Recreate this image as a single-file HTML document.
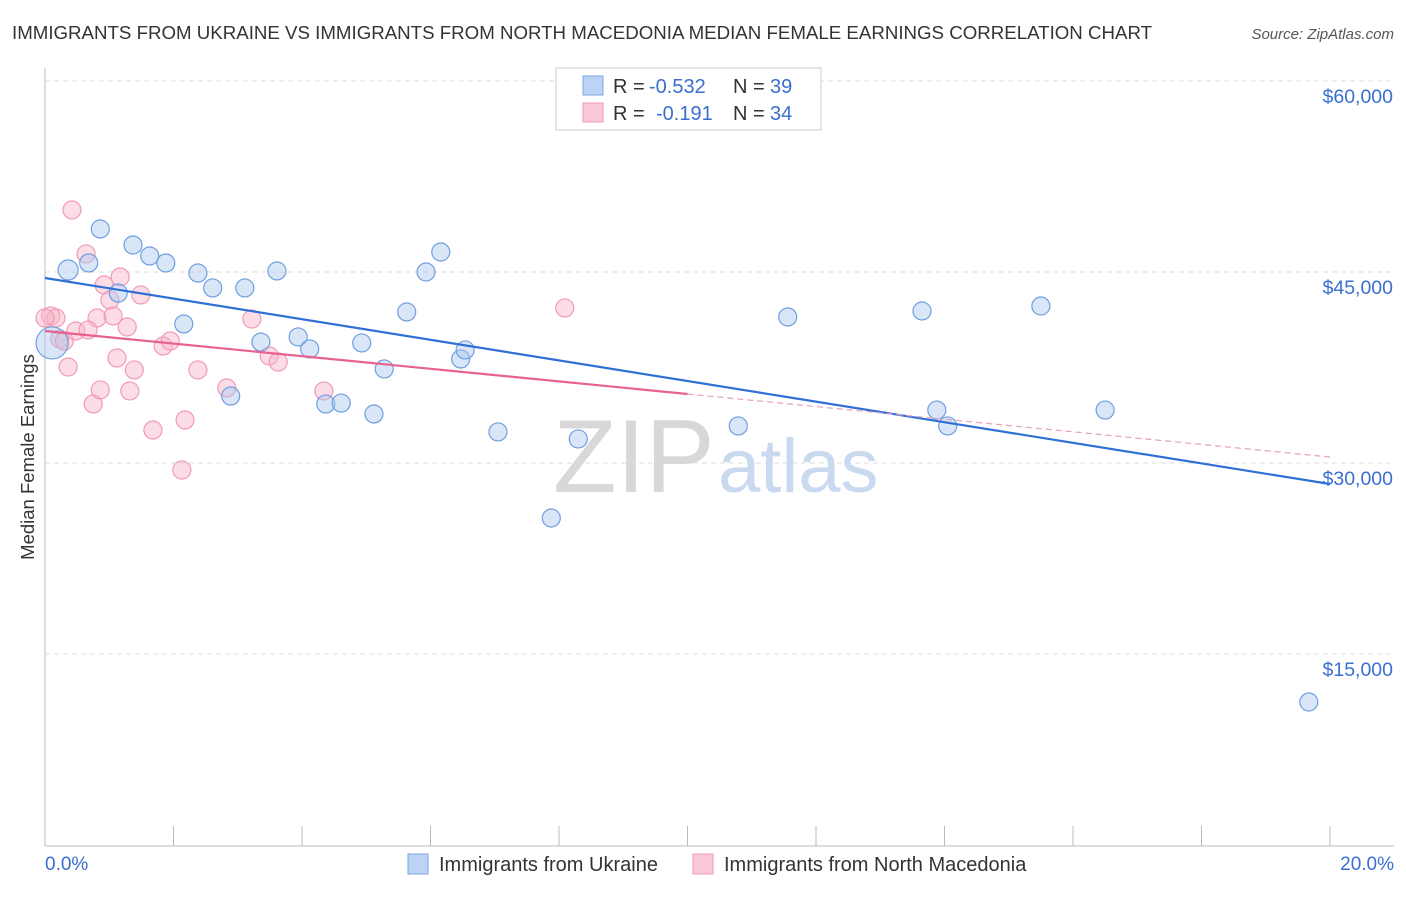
<!DOCTYPE html>
<html><head><meta charset="utf-8"><style>
body{margin:0;background:#fff;font-family:"Liberation Sans",sans-serif;}
svg text{font-family:"Liberation Sans",sans-serif;}
</style></head><body>
<svg id="c" width="1406" height="892" xmlns="http://www.w3.org/2000/svg">
<text x="12" y="39" font-size="18.7" fill="#333">IMMIGRANTS FROM UKRAINE VS IMMIGRANTS FROM NORTH MACEDONIA MEDIAN FEMALE EARNINGS CORRELATION CHART</text>
<text x="1394" y="39" font-size="15" fill="#555" font-style="italic" text-anchor="end">Source: ZipAtlas.com</text>
<g id="grid"></g>
<text x="553" y="492" font-size="104" fill="#d8d8d8" font-family="Liberation Serif">ZIP</text>
<text x="718" y="492" font-size="76" fill="#c9daf0">atlas</text>
<g id="marks"></g>
<text transform="translate(34,457) rotate(-90)" font-size="18.5" fill="#333" text-anchor="middle">Median Female Earnings</text>
<text x="45" y="870" font-size="19" fill="#3a6fd1">0.0%</text>
<text x="1394" y="870" font-size="19" fill="#3a6fd1" text-anchor="end">20.0%</text>
<g>
<rect x="556" y="68" width="265" height="62" fill="#fff" stroke="#ccc"/>
<rect x="583" y="76" width="20" height="19" fill="#bcd3f5" stroke="#7aa6e3"/>
<rect x="583" y="103" width="20" height="19" fill="#fac8d6" stroke="#f29ab5"/>
<text x="613" y="93" font-size="20" fill="#333">R =</text>
<text x="649" y="93" font-size="20" fill="#3a6fd1">-0.532</text>
<text x="733" y="93" font-size="20" fill="#333">N =</text>
<text x="770" y="93" font-size="20" fill="#3a6fd1">39</text>
<text x="613" y="120" font-size="20" fill="#333">R =</text>
<text x="656" y="120" font-size="20" fill="#3a6fd1">-0.191</text>
<text x="733" y="120" font-size="20" fill="#333">N =</text>
<text x="770" y="120" font-size="20" fill="#3a6fd1">34</text>
</g>
<g>
<rect x="408" y="854" width="20" height="20" fill="#bcd3f5" stroke="#7aa6e3"/>
<text x="439" y="871" font-size="20" fill="#333">Immigrants from Ukraine</text>
<rect x="693" y="854" width="20" height="20" fill="#fac8d6" stroke="#f29ab5"/>
<text x="724" y="871" font-size="20" fill="#333">Immigrants from North Macedonia</text>
</g>
</svg>
<script>
const yTicks=[15000,30000,45000,60000];
const yTickLabels=["$15,000","$30,000","$45,000","$60,000"];
const xTicks=[0,2,4,6,8,10,12,14,16,18,20];
const ukraineX=[0.36,0.86,1.37,1.63,1.88,0.68,1.14,2.38,2.61,3.11,3.61,2.16,3.36,3.94,4.12,2.89,4.37,4.61,4.93,5.12,5.28,5.63,5.93,6.16,6.47,6.54,7.05,7.88,8.30,10.79,11.56,13.65,13.88,14.05,15.50,16.50,19.67,0.11,8.95];
const ukraineY=[45160,48380,47120,46260,45710,45710,43350,44920,43750,43750,45080,40920,39500,39900,38960,35260,34640,34710,39430,33850,37390,41860,45000,46570,38170,38880,32440,25680,31890,32910,41470,41940,34160,32910,42330,34160,11230,39430,57730];
const ukraineSize=[10,9,9,9,9,9,9,9,9,9,9,9,9,9,9,9,9,9,9,9,9,9,9,9,9,9,9,9,9,9,9,9,9,9,9,9,9,16,6];
const macX=[0.42,0.64,0.09,0.17,0.23,0.30,0.36,0.48,0.75,0.81,0.86,0.92,1.01,1.06,1.12,1.17,1.28,1.32,1.39,1.49,1.68,1.84,1.95,2.18,2.13,2.38,2.83,3.22,3.49,3.63,4.34,8.09,0.67,0.0];
const macY=[49870,46420,41550,41390,39740,39580,37540,40370,34640,41390,35740,43980,42800,41550,38250,44610,40680,35660,37310,43200,32590,39190,39580,33380,29450,37310,35890,41310,38410,37930,35660,42180,40450,41390];
const ukraineTrend=[44530,28350];
const macTrend=[40370,30470];
const NS="http://www.w3.org/2000/svg";
const X=v=>45+v*64.25, Y=v=>845-v*0.012733;
function mk(t,a,p){const e=document.createElementNS(NS,t);for(const k in a)e.setAttribute(k,a[k]);p.appendChild(e);return e;}
const g=document.getElementById('grid'), m=document.getElementById('marks');
const ax=mk('line',{x1:45,y1:68,x2:45,y2:846,stroke:'#bbb'},g);


const bx=mk('line',{x1:45,y1:846,x2:1394,y2:846,stroke:'#bbb'},g);


yTicks.forEach((t,i)=>{
 const l=mk('line',{x1:45,y1:Y(t),x2:1394,y2:Y(t),stroke:'#ddd','stroke-dasharray':'5,4'},g);
 
 
 const tx=mk('text',{x:1393,y:Y(t)+22,'font-size':19.5,fill:'#3a6fd1','text-anchor':'end'},g);
 tx.textContent=yTickLabels[i];
 
 
});
xTicks.forEach(t=>{
 const l=mk('line',{x1:X(t),y1:826,x2:X(t),y2:846,stroke:'#bbb'},g);
 
 
});
macX.forEach((x,i)=>{
 const c=mk('circle',{cx:X(x),cy:Y(macY[i]),r:9,fill:'rgba(248,180,200,0.45)',stroke:'#f29ab5','stroke-width':1.2},m);
 
 
});
ukraineX.forEach((x,i)=>{
 const c=mk('circle',{cx:X(x),cy:Y(ukraineY[i]),r:ukraineSize[i],fill:'rgba(170,200,240,0.45)',stroke:'#6f9ee0','stroke-width':1.2},m);
 
 
});
const bl=mk('line',{x1:X(0),y1:Y(ukraineTrend[0]),x2:X(20),y2:Y(ukraineTrend[1]),stroke:'#2f6fd6','stroke-width':2.2},m);


const pm=v=>macTrend[0]+(macTrend[1]-macTrend[0])*v/20;
const pl=mk('line',{x1:X(0),y1:Y(pm(0)),x2:X(10),y2:Y(pm(10)),stroke:'#e8628f','stroke-width':2.2},m);


const pd=mk('line',{x1:X(10),y1:Y(pm(10)),x2:X(20),y2:Y(pm(20)),stroke:'#e8a0b8','stroke-width':1.2,'stroke-dasharray':'6,4'},m);


</script>
</body></html>
